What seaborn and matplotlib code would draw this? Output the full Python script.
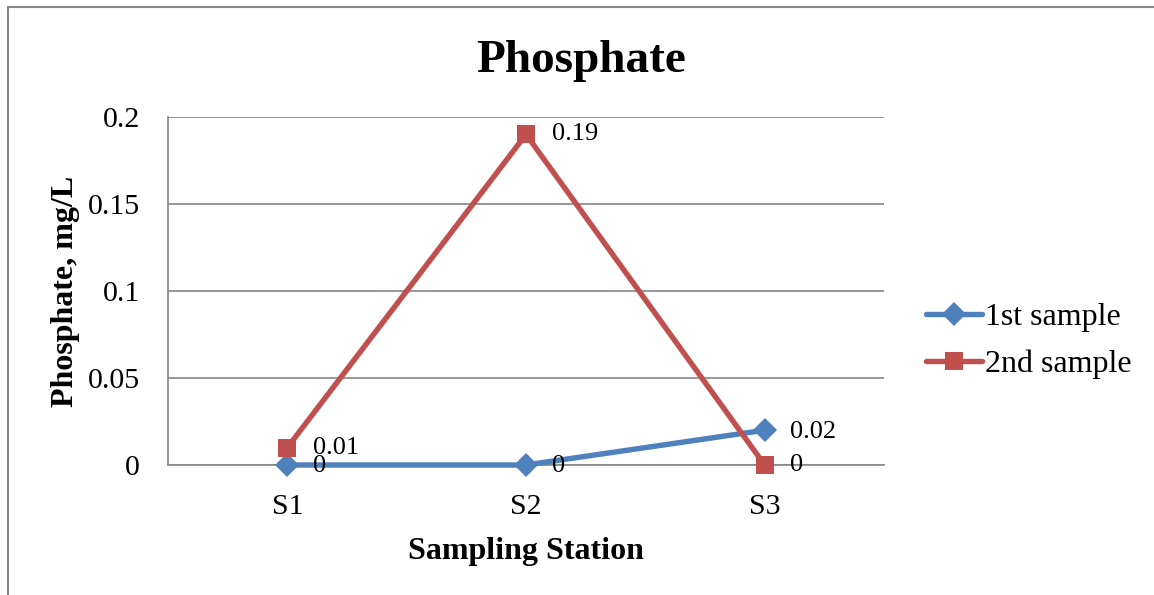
import matplotlib
matplotlib.use("Agg")
import matplotlib.pyplot as plt
from matplotlib.lines import Line2D
import seaborn as sns
import pandas as pd

stations = ["S1", "S2", "S3"]
first_sample = [0, 0, 0.02]
second_sample = [0.01, 0.19, 0]
first_labels = ["0", "0", "0.02"]
second_labels = ["0.01", "0.19", "0"]
y_ticks = [0, 0.05, 0.1, 0.15, 0.2]
y_tick_labels = ["0", "0.05", "0.1", "0.15", "0.2"]

sns.set_theme(style="white")
plt.rcParams['font.family'] = ['Liberation Serif', 'DejaVu Serif']
plt.rcParams['text.color'] = 'black'
plt.rcParams['axes.labelcolor'] = 'black'
plt.rcParams['xtick.color'] = 'black'
plt.rcParams['ytick.color'] = 'black'

BLUE = "#4F81BD"
RED = "#C0504D"
GRAY = "#868686"
LW = 3.9

fig = plt.figure(figsize=(11.54, 5.95), dpi=100)
ax = fig.add_axes([168/1154, 1 - 465/595, (884-168)/1154, (465-117)/595])

df = pd.DataFrame({
    "station": stations * 2,
    "value": first_sample + second_sample,
    "series": ["1st sample"] * 3 + ["2nd sample"] * 3,
})

sns.lineplot(data=df[df.series == "1st sample"], x="station", y="value", ax=ax,
             color=BLUE, lw=LW, marker="D", markersize=12, markeredgewidth=0,
             label="1st sample", sort=False, clip_on=False, zorder=5)
sns.lineplot(data=df[df.series == "2nd sample"], x="station", y="value", ax=ax,
             color=RED, lw=LW, marker="s", markersize=13, markeredgewidth=0,
             label="2nd sample", sort=False, clip_on=False, zorder=6)

for i, (v, t) in enumerate(zip(first_sample, first_labels)):
    ax.annotate(t, (i, v), xytext=(18.5, -1), textcoords="offset points",
                va="center", ha="left", fontsize=19, color="black", zorder=7)
for i, (v, t) in enumerate(zip(second_sample, second_labels)):
    ax.annotate(t, (i, v), xytext=(18.5, 0), textcoords="offset points",
                va="center", ha="left", fontsize=19, color="black", zorder=7)

ax.set_xlim(-0.5, 2.5)
ax.set_ylim(0, 0.2)
ax.set_yticks(y_ticks)
ax.set_yticklabels(y_tick_labels)
ax.set_xticks(range(len(stations)))
ax.set_xticklabels(stations)
ax.set_xticks([-0.5, 0.5, 1.5, 2.5], minor=True)
ax.tick_params(axis="x", which="major", length=0, labelsize=21.5, pad=21, labelcolor="black")
ax.tick_params(axis="x", which="minor", length=6, width=1.2, color=GRAY, direction="out")
ax.tick_params(axis="y", which="major", length=6, width=1.2, color=GRAY, labelsize=21.5,
               pad=14, direction="out", labelcolor="black")
ax.yaxis.grid(True, color=GRAY, lw=1.2)
ax.set_axisbelow(True)
for s in ["top", "right"]:
    ax.spines[s].set_visible(False)
for s in ["left", "bottom"]:
    ax.spines[s].set_color(GRAY)
    ax.spines[s].set_linewidth(1.2)

ax.set_xlabel("Sampling Station", fontsize=23, fontweight="bold", labelpad=12, color="black")
ax.set_ylabel("Phosphate, mg/L", fontsize=23, fontweight="bold", labelpad=6, color="black")
fig.text(581/1154, 1 - 61/595, "Phosphate", fontsize=34, fontweight="bold",
         ha="center", va="center", color="black")

leg = ax.legend(loc="center left", bbox_to_anchor=(897/1154, 1 - 341/595),
                bbox_transform=fig.transFigure, frameon=False, fontsize=23,
                handlelength=1.75, handletextpad=0.1, labelspacing=0.55)
for h in leg.legend_handles:
    h.set_linewidth(LW)
for t in leg.get_texts():
    t.set_color("black")

fig.add_artist(Line2D([8/1154, 8/1154], [0, 1 - 7/595], color=GRAY, lw=1.5,
                      transform=fig.transFigure))
fig.add_artist(Line2D([8/1154, 1], [1 - 7/595, 1 - 7/595], color=GRAY, lw=1.5,
                      transform=fig.transFigure))

fig.savefig("out.png", dpi=100)
